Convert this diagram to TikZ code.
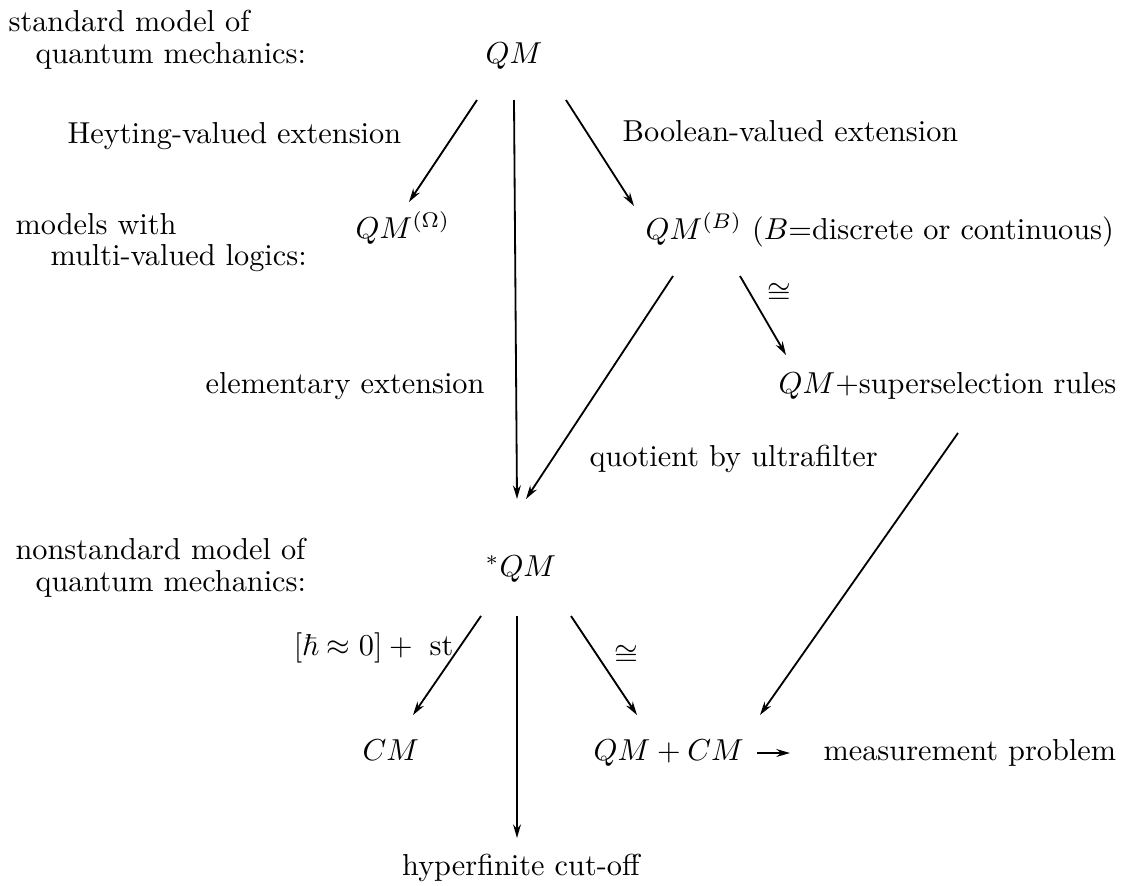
\documentclass[tikz,border=0pt]{standalone}
\usepackage{amsmath,amssymb}
\usepackage{tikz}
\usetikzlibrary{arrows.meta, positioning, calc}

\begin{document}
\begin{tikzpicture}[x=0.0116cm, y=-0.0116cm,
        lbl/.style={inner sep=0pt, anchor=base west},
        arr/.style={-{Stealth[length=4.5pt,width=2.6pt]}, line width=0.6pt}]
    \useasboundingbox (0,0) rectangle (1138,886);
    % captions on the left
    \node[lbl] (std1) at (8,31) {standard model of};
    \node[lbl] (std2) at (35,63) {quantum mechanics:};
    \node[lbl] (mv1) at (15,234) {models with};
    \node[lbl] (mv2) at (50,265) {multi-valued logics:};
    \node[lbl] (ns1) at (15,559) {nonstandard model of};
    \node[lbl] (ns2) at (35,591) {quantum mechanics:};
    % the models
    \node[lbl] (QM) at (485,63) {$QM$};
    \node[lbl] (QMO) at (355,238) {$QM^{(\Omega)}$};
    \node[lbl] (QMB) at (645,239) {$QM^{(B)}$ ($B$=discrete or continuous)};
    \node[lbl] (super) at (778,393) {$QM$+superselection rules};
    \node[lbl] (sQM) at (485,576) {${}^*QM$};
    \node[lbl] (CM) at (362,760) {$CM$};
    \node[lbl] (QMCM) at (593,760) {$QM+CM$};
    \node[lbl] (meas) at (823,760) {measurement problem};
    \node[inner sep=0pt, anchor=base] (hyper) at (521,875) {hyperfinite cut-off};
    % arrow labels
    \node[lbl] (heyt) at (67,143) {Heyting-valued extension};
    \node[lbl] (bool) at (622,141) {Boolean-valued extension};
    \node[lbl] (elem) at (205,393) {elementary extension};
    \node[lbl] (quot) at (589,466) {quotient by ultrafilter};
    \node[inner sep=0pt, anchor=base east] (hbar) at (454,655) {$[\hbar\approx 0]+{}$ st};
    % arrows
    \draw[arr] ($(QM.base west)+(-8,37)$) -- ($(QMO.base west)+(54,-36)$);
    \draw[arr] ($(QM.base west)+(29,37)$) -- ($(sQM.base west)+(32,-77)$);
    \draw[arr] ($(QM.base west)+(81,37)$) -- ($(QMB.base west)+(-11,-33)$);
    \draw[arr] ($(QMB.base west)+(28,37)$) -- ($(sQM.base west)+(41,-77)$);
    \draw[arr] ($(QMB.base west)+(95,37)$) -- node[pos=0.22, right=2pt] (iso1) {$\cong$} ($(super.base west)+(8,-38)$);
    \draw[arr] ($(super.base west)+(180,40)$) -- ($(QMCM.base west)+(167,-45)$);
    \draw[arr] ($(sQM.base west)+(-4,40)$) -- ($(CM.base west)+(51,-45)$);
    \draw[arr] ($(sQM.base west)+(32,40)$) -- ($(hyper.base)+(-4,-37)$);
    \draw[arr] ($(sQM.base west)+(86,40)$) -- node[pos=0.4, right=2pt] (iso2) {$\cong$} ($(QMCM.base west)+(44,-45)$);
    \draw[arr] ($(QMCM.base west)+(164,-7)$) -- ($(meas.base west)+(-33,-7)$);
\end{tikzpicture}
\end{document}
